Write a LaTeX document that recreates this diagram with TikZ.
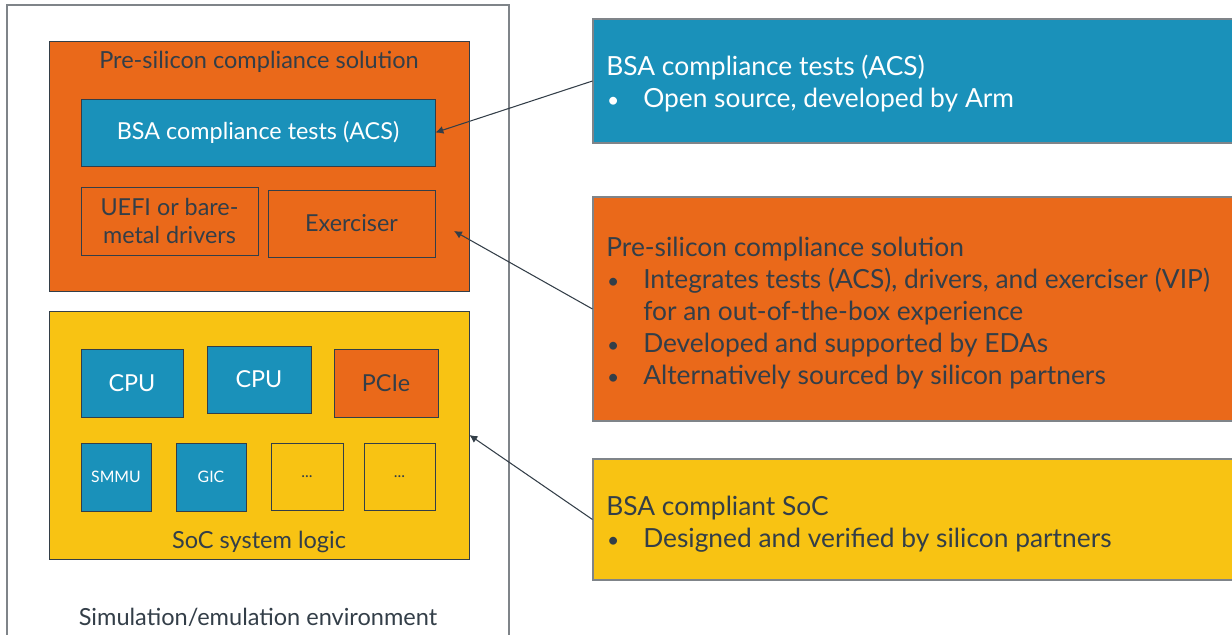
\documentclass[tikz,border=0pt]{standalone}
\usepackage{fontspec}
\setmainfont{Lato}
\usetikzlibrary{arrows.meta,positioning,fit}

\definecolor{armblue}{HTML}{1A91BA}
\definecolor{armorange}{HTML}{EA691A}
\definecolor{armyellow}{HTML}{F8C313}
\definecolor{armdark}{HTML}{333E48}
\definecolor{envgray}{HTML}{7F8489}

\newcommand{\itm}{\makebox[21pt][l]{\hspace{0.5pt}{\fontsize{12}{12}\selectfont\textbullet}}}

\begin{document}
\begin{tikzpicture}[%
    x=0.02cm, y=-0.02cm,
    >={Latex[length=4.5pt,width=4.5pt]},
    box/.style={draw=armdark, line width=0.5pt, inner sep=0pt},
    bluebox/.style={box, fill=armblue},
    orangebox/.style={box, fill=armorange},
    yellowbox/.style={box, fill=armyellow},
    boxtext/.style={inner sep=0pt, align=center, text=armdark,
      font=\fontsize{13.3}{15.5}\selectfont},
    whitetext/.style={boxtext, text=white},
    smalltext/.style={font=\fontsize{9}{11}\selectfont},
    lab/.style={text=armdark, inner sep=0pt, font=\fontsize{13.4}{15.5}\selectfont},
    note/.style={draw=envgray, line width=0.6pt, inner sep=0pt},
    notetext/.style={anchor=west, align=left, inner sep=0pt,
      font=\fontsize{15}{18.2}\selectfont},
    conn/.style={->, draw=armdark, line width=0.6pt}
  ]
    \useasboundingbox (0,0) rectangle (1232,635);
    \clip (0,0) rectangle (1232,635);

    % environment
    \node[draw=envgray, line width=0.8pt, inner sep=0pt, fit={(7,5) (509,700)}] (env) {};
    \node[lab] (envtext) at (258,617.5) {Simulation/emulation environment};

    % pre-silicon solution
    \node[orangebox, fit={(49,41) (469,291)}] (presil) {};
    \node[lab] (presiltitle) at (259,61.5) {Pre-silicon compliance solution};
    \node[bluebox, fit={(81,99) (435,166)},
      label={[whitetext]center:BSA compliance tests (ACS)}] (acs) {};
    \node[orangebox, fit={(81,187) (258,255)},
      label={[boxtext]center:UEFI or bare-\\metal drivers}] (uefi) {};
    \node[orangebox, fit={(268,190) (435,257)},
      label={[boxtext]center:Exerciser}] (exer) {};

    % SoC
    \node[yellowbox, fit={(49,311) (469,559)}] (soc) {};
    \node[lab] (soctitle) at (259,541.5) {SoC system logic};
    \node[bluebox, fit={(81,349) (183,417)},
      label={[whitetext]center:CPU}] (cpua) {};
    \node[bluebox, fit={(207,346) (311,413)},
      label={[whitetext]center:CPU}] (cpub) {};
    \node[orangebox, fit={(334,349) (438,417)},
      label={[boxtext]center:PCIe}] (pcie) {};
    \node[bluebox, fit={(81,443) (151,511)},
      label={[whitetext, smalltext]center:SMMU}] (smmu) {};
    \node[bluebox, fit={(176,443) (246,511)},
      label={[whitetext, smalltext]center:GIC}] (gic) {};
    \node[yellowbox, fit={(271,443) (343,510)},
      label={[boxtext, smalltext]center:...}] (dotsa) {};
    \node[yellowbox, fit={(364,443) (435,510)},
      label={[boxtext, smalltext]center:...}] (dotsb) {};

    % notes
    \node[note, fill=armblue, fit={(593,19) (1260,143)}] (acsnote) {};
    \node[notetext, text=white] (acsnotetext) at (606,84)
      {BSA compliance tests (ACS)\\
       \itm Open source, developed by Arm};

    \node[note, fill=armorange, fit={(593,197) (1260,421)}] (presilnote) {};
    \node[notetext, text=armdark] (presilnotetext) at (606,313.5)
      {Pre-silicon compliance solution\\
       \itm Integrates tests (ACS), drivers, and exerciser (VIP)\\
       \hspace*{21pt}for an out-of-the-box experience\\
       \itm Developed and supported by EDAs\\
       \itm Alternatively sourced by silicon partners};

    \node[note, fill=armyellow, fit={(593,459) (1260,580)}] (socnote) {};
    \node[notetext, text=armdark] (socnotetext) at (606,524)
      {BSA compliant SoC\\
       \itm Designed and verified by silicon partners};

    \coordinate (presilpt) at (454,231);

    \draw[conn] (acsnote.west) -- (acs.east);
    \draw[conn] (presilnote.west) -- (presilpt);
    \draw[conn] (socnote.west) -- (soc.east);
  \end{tikzpicture}
\end{document}
